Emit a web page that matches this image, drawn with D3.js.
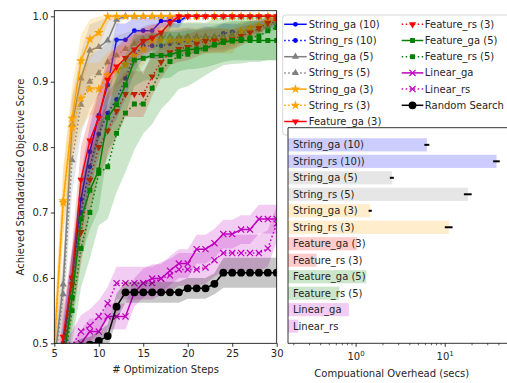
<!DOCTYPE html>
<html><head><meta charset="utf-8">
<script src="https://cdn.jsdelivr.net/npm/d3@7"></script>
<style>
body{margin:0;background:#fff}
svg{display:block;font-family:"DejaVu Sans",sans-serif}
</style>
</head><body>
<svg id="c" width="507" height="383"></svg>
<script>
// ---------- DATA ----------
const steps = [4,5,6,7,8,9,10,11,12,13,14,15,16,17,18,19,20,21,22,23,24,25,26,27,28,29,30];
const yTicks = [0.5,0.6,0.7,0.8,0.9,1.0];
const xTicks = [5,10,15,20,25,30];

const strGa10   = [0.33,0.40,0.50,0.60,0.72,0.793,0.849,0.895,0.964,0.964,0.978,0.978,0.978,0.993,0.993,0.993,1,1,1,1,1,1,1,1,1,1,1];
const strGa10Sd = [0.03,0.03,0.04,0.04,0.04,0.04,0.035,0.03,0.025,0.025,0.02,0.02,0.02,0.01,0.01,0.01,0,0,0,0,0,0,0,0,0,0,0];
const strRs10   = [0.32,0.39,0.49,0.60,0.70,0.77,0.82,0.852,0.873,0.905,0.94,0.955,0.955,0.955,0.958,0.96,0.962,0.962,0.967,0.967,0.974,0.976,0.976,0.982,0.985,0.99,0.99];
const strRs10Sd = [0.03,0.03,0.04,0.04,0.04,0.035,0.035,0.03,0.03,0.03,0.025,0.02,0.02,0.02,0.02,0.02,0.02,0.018,0.018,0.015,0.015,0.012,0.012,0.01,0.01,0.008,0.008];
const strGa5    = [0.40,0.47,0.59,0.835,0.905,0.948,0.953,0.963,0.995,1,1,1,1,1,1,1,1,1,1,1,1,1,1,1,1,1,1];
const strGa5Sd  = [0.03,0.03,0.04,0.04,0.04,0.04,0.04,0.035,0.01,0,0,0,0,0,0,0,0,0,0,0,0,0,0,0,0,0,0];
const strRs5    = [0.39,0.46,0.575,0.78,0.865,0.90,0.913,0.93,0.94,0.95,0.958,0.965,0.969,0.969,0.969,0.969,0.969,0.969,0.969,0.969,0.969,0.972,0.975,0.978,0.98,0.985,0.99];
const strRs5Sd  = [0.03,0.03,0.04,0.05,0.045,0.04,0.035,0.03,0.03,0.025,0.02,0.02,0.02,0.02,0.02,0.02,0.02,0.02,0.02,0.02,0.02,0.018,0.015,0.015,0.012,0.01,0.01];
const strGa3    = [0.40,0.497,0.718,0.844,0.932,0.965,0.975,1,1,1,1,1,1,1,1,1,1,1,1,1,1,1,1,1,1,1,1];
const strGa3Sd  = [0.03,0.04,0.05,0.05,0.04,0.03,0.025,0.01,0,0,0,0,0,0,0,0,0,0,0,0,0,0,0,0,0,0,0];
const strRs3    = [0.39,0.49,0.715,0.83,0.875,0.889,0.889,0.91,0.918,0.926,0.94,0.95,0.963,0.963,0.963,0.963,0.963,0.963,0.963,0.963,0.963,0.963,0.977,0.982,0.985,0.992,0.995];
const strRs3Sd  = [0.03,0.04,0.05,0.05,0.045,0.04,0.04,0.035,0.035,0.03,0.03,0.025,0.02,0.02,0.02,0.02,0.02,0.02,0.02,0.02,0.02,0.02,0.015,0.012,0.01,0.008,0.005];
const featGa3   = [0.30,0.40,0.51,0.60,0.75,0.81,0.845,0.903,0.923,0.936,0.949,0.962,0.967,0.975,0.99,1,1,1,1,1,1,1,1,1,1,1,1];
const featGa3Sd = [0.03,0.03,0.04,0.05,0.05,0.04,0.04,0.035,0.03,0.03,0.025,0.02,0.02,0.015,0.01,0,0,0,0,0,0,0,0,0,0,0,0];
const featRs3   = [0.30,0.38,0.48,0.59,0.67,0.75,0.80,0.825,0.855,0.881,0.881,0.881,0.908,0.93,0.945,0.95,0.953,0.958,0.962,0.963,0.963,0.965,0.97,0.975,0.982,0.99,0.995];
const featRs3Sd = [0.03,0.03,0.04,0.05,0.05,0.05,0.045,0.04,0.04,0.035,0.035,0.035,0.03,0.025,0.02,0.02,0.02,0.02,0.018,0.018,0.018,0.015,0.015,0.012,0.01,0.008,0.005];
const featGa5   = [0.30,0.38,0.47,0.57,0.69,0.734,0.765,0.845,0.865,0.895,0.933,0.936,0.94,0.94,0.941,0.946,0.949,0.95,0.952,0.956,0.96,0.963,0.963,0.963,0.963,0.963,0.963];
const featGa5Sd = [0.03,0.03,0.04,0.05,0.06,0.06,0.06,0.05,0.05,0.045,0.04,0.035,0.035,0.035,0.035,0.03,0.03,0.03,0.03,0.03,0.03,0.03,0.03,0.03,0.03,0.03,0.03];
const featRs5   = [0.28,0.37,0.46,0.55,0.645,0.70,0.76,0.77,0.821,0.852,0.866,0.866,0.89,0.918,0.931,0.939,0.942,0.946,0.95,0.957,0.962,0.962,0.965,0.967,0.97,0.978,0.983];
const featRs5Sd = [0.03,0.03,0.04,0.05,0.06,0.07,0.08,0.08,0.09,0.09,0.07,0.045,0.055,0.06,0.059,0.05,0.049,0.045,0.04,0.039,0.037,0.035,0.037,0.037,0.04,0.045,0.05];
const linGa     = [0.44,0.45,0.46,0.48,0.50,0.518,0.518,0.541,0.541,0.541,0.578,0.592,0.599,0.599,0.611,0.622,0.622,0.644,0.644,0.653,0.667,0.667,0.674,0.674,0.69,0.69,0.69];
const linGaSd   = [0.02,0.02,0.02,0.02,0.02,0.02,0.02,0.02,0.02,0.02,0.022,0.022,0.022,0.022,0.022,0.022,0.022,0.022,0.022,0.022,0.022,0.022,0.022,0.022,0.022,0.022,0.022];
const linRs     = [0.45,0.46,0.475,0.497,0.518,0.527,0.541,0.561,0.592,0.592,0.592,0.592,0.592,0.599,0.604,0.613,0.613,0.613,0.616,0.627,0.638,0.638,0.638,0.638,0.638,0.645,0.683];
const linRsSd   = [0.02,0.02,0.02,0.022,0.025,0.025,0.025,0.025,0.025,0.025,0.025,0.025,0.025,0.025,0.025,0.025,0.025,0.025,0.025,0.025,0.028,0.028,0.028,0.028,0.028,0.028,0.028];
const randSearch= [0.47,0.48,0.485,0.49,0.495,0.498,0.5035,0.511,0.556,0.578,0.578,0.578,0.578,0.578,0.578,0.578,0.584,0.584,0.584,0.591,0.608,0.608,0.608,0.608,0.608,0.608,0.608];
const randSd    = [0.01,0.01,0.01,0.01,0.012,0.012,0.015,0.018,0.02,0.016,0.016,0.016,0.016,0.016,0.016,0.016,0.016,0.016,0.016,0.016,0.023,0.023,0.023,0.023,0.023,0.023,0.023];

const seriesNames = ["String_ga (10)","String_rs (10)","String_ga (5)","String_rs (5)","String_ga (3)","String_rs (3)",
  "Feature_ga (3)","Feature_rs (3)","Feature_ga (5)","Feature_rs (5)","Linear_ga","Linear_rs","Random Search"];

// overhead inset
const barLabels = ["String_ga (10)","String_rs (10))","String_ga (5)","String_rs (5)","String_ga (3)","String_rs (3)",
  "Feature_ga (3)","Feature_rs (3)","Feature_ga (5)","Feature_rs (5)","Linear_ga","Linear_rs"];
const overhead = [6.23,37.7,2.52,18.0,1.44,11.0,1.03,0.36,1.30,0.65,0.83,0.225];
const overheadErr = [0.4,3.2,0.13,1.8,0.06,1.1,0,0,0,0,0,0];
const logTicks = [1,10];
const logMinor = [0.2,0.3,0.4,0.5,0.6,0.7,0.8,0.9,2,3,4,5,6,7,8,9,20,30,40,50];

// ---------- STYLE TABLE ----------
const C = {blue:"#0000ff",gray:"#808080",orange:"#ffa500",red:"#ff0000",green:"#008000",mag:"#bf00bf",black:"#000000"};
const series = [
 {name:seriesNames[0], v:strGa10, sd:strGa10Sd, c:C.blue, dot:false, m:"circS"},
 {name:seriesNames[1], v:strRs10, sd:strRs10Sd, c:C.blue, dot:true, m:"circS"},
 {name:seriesNames[2], v:strGa5, sd:strGa5Sd, c:C.gray, dot:false, m:"triUp"},
 {name:seriesNames[3], v:strRs5, sd:strRs5Sd, c:C.gray, dot:true, m:"triUp"},
 {name:seriesNames[4], v:strGa3, sd:strGa3Sd, c:C.orange, dot:false, m:"star"},
 {name:seriesNames[5], v:strRs3, sd:strRs3Sd, c:C.orange, dot:true, m:"star"},
 {name:seriesNames[6], v:featGa3, sd:featGa3Sd, c:C.red, dot:false, m:"triDown"},
 {name:seriesNames[7], v:featRs3, sd:featRs3Sd, c:C.red, dot:true, m:"triDown"},
 {name:seriesNames[8], v:featGa5, sd:featGa5Sd, c:C.green, dot:false, m:"square"},
 {name:seriesNames[9], v:featRs5, sd:featRs5Sd, c:C.green, dot:true, m:"square"},
 {name:seriesNames[10], v:linGa, sd:linGaSd, c:C.mag, dot:false, m:"x"},
 {name:seriesNames[11], v:linRs, sd:linRsSd, c:C.mag, dot:true, m:"x"},
 {name:seriesNames[12], v:randSearch, sd:randSd, c:C.black, dot:false, m:"circL"}
];
const barColors = [C.blue,C.blue,C.gray,C.gray,C.orange,C.orange,C.red,C.red,C.green,C.green,C.mag,C.mag];

const svg = d3.select("#c");
const TXT = "#262626";

// ---------- MAIN CHART ----------
const x = d3.scaleLinear().domain([5,30]).range([54.3,276.7]);
const y = d3.scaleLinear().domain([0.5,1.0086]).range([343.3,10.7]);

svg.append("defs").append("clipPath").attr("id","clipMain")
  .append("rect").attr("x",x.range()[0]).attr("y",y.range()[1])
  .attr("width",x.range()[1]-x.range()[0]).attr("height",y.range()[0]-y.range()[1]);

const plot = svg.append("g").attr("clip-path","url(#clipMain)");

const symbolTimes = d3.symbolTimes || d3.symbolX;
function marker(sel, type, color){
  let gen, rot = 0, fill = color, stroke = "none", sw = 0;
  switch(type){
    case "circS": gen = d3.symbol(d3.symbolCircle, 18); break;
    case "circL": gen = d3.symbol(d3.symbolCircle, 48); break;
    case "triUp": gen = d3.symbol(d3.symbolTriangle, 22); break;
    case "triDown": gen = d3.symbol(d3.symbolTriangle, 22); rot = 180; break;
    case "star": gen = d3.symbol(d3.symbolStar, 30); break;
    case "square": gen = d3.symbol(d3.symbolSquare, 24); break;
    case "x": gen = d3.symbol(symbolTimes, 26); fill = "none"; stroke = color; sw = 1.2; break;
  }
  sel.attr("d", gen()).attr("fill", fill).attr("stroke", stroke).attr("stroke-width", sw)
     .attr("transform", function(){ return (this.getAttribute("data-t")||"") + (rot?" rotate(180)":""); });
}

const area = d3.area()
  .x(d => x(d.s))
  .y0(d => y(d.m - d.sd))
  .y1(d => y(Math.min(1, d.m + d.sd)));
const line = d3.line().x(d => x(d.s)).y(d => y(d.m));

series.forEach(sr => {
  const pts = steps.map((s,i) => ({s, m: sr.v[i], sd: sr.sd[i]}));
  plot.append("path").datum(pts).attr("d", area)
    .attr("fill", sr.c).attr("fill-opacity", sr.c === C.black ? 0.22 : 0.2).attr("stroke","none");
  plot.append("path").datum(pts).attr("d", line)
    .attr("fill","none").attr("stroke", sr.c).attr("stroke-width",1.5)
    .attr("stroke-dasharray", sr.dot ? "1.5,2.5" : null);
  plot.append("g").selectAll("path").data(pts).join("path")
    .attr("data-t", d => `translate(${x(d.s)},${y(d.m)})`)
    .call(marker, sr.m, sr.c);
});

// axes
const gx = svg.append("g").attr("transform",`translate(0,${y.range()[0]})`)
  .call(d3.axisBottom(x).tickValues(xTicks).tickSize(3.5).tickPadding(3.5));
const gy = svg.append("g").attr("transform",`translate(${x.range()[0]},0)`)
  .call(d3.axisLeft(y).tickValues(yTicks).tickFormat(d3.format(".1f")).tickSize(3.5).tickPadding(2.5));
[gx,gy].forEach(g => {
  g.select(".domain").remove();
  g.selectAll("text").attr("font-size",10).attr("font-family","DejaVu Sans").attr("fill",TXT);
  g.selectAll("line").attr("stroke","#000").attr("stroke-width",0.8);
});
svg.append("rect").attr("x",x.range()[0]).attr("y",y.range()[1])
  .attr("width",x.range()[1]-x.range()[0]).attr("height",y.range()[0]-y.range()[1])
  .attr("fill","none").attr("stroke","#000").attr("stroke-width",0.8);

svg.append("text").attr("x",(x.range()[0]+x.range()[1])/2).attr("y",372.5)
  .attr("text-anchor","middle").attr("font-size",10).attr("fill",TXT).text("# Optimization Steps");
svg.append("text").attr("transform",`translate(23.5,${(y.range()[0]+y.range()[1])/2}) rotate(-90)`)
  .attr("text-anchor","middle").attr("font-size",10).attr("fill",TXT).text("Achieved Standardized Objective Score");

// ---------- LEGEND ----------
const leg = svg.append("g");
leg.append("rect").attr("x",282.7).attr("y",15).attr("width",260).attr("height",120).attr("rx",3)
  .attr("fill","#fff").attr("fill-opacity",0.8).attr("stroke","#cccccc").attr("stroke-width",0.8);
series.forEach((sr,i) => {
  const col = i < 7 ? 0 : 1, row = i < 7 ? i : i - 7;
  const x0 = col ? 401.7 : 284.2, x1 = col ? 423.3 : 306.7, tx = col ? 424.8 : 308.7;
  const yy = 24.3 + row * 16.2;
  leg.append("line").attr("x1",x0).attr("x2",x1).attr("y1",yy).attr("y2",yy)
    .attr("stroke",sr.c).attr("stroke-width",1.5).attr("stroke-dasharray", sr.dot ? "1.5,2.5" : null);
  leg.append("path").attr("data-t",`translate(${(x0+x1)/2},${yy})`).call(marker, sr.m, sr.c);
  leg.append("text").attr("x",tx).attr("y",yy).attr("dy","0.35em").attr("font-size",10).attr("fill",TXT).text(sr.name);
});

// ---------- INSET BAR CHART ----------
const xs = d3.scaleLog().domain([0.172,50]).range([288,507.5]);
const yi = d3.scaleLinear().domain([-1.04,12.04]).range([127.7,343.3]);
const unit = yi(1) - yi(0);
const inset = svg.append("g");
inset.append("rect").attr("x",xs.range()[0]).attr("y",yi.range()[0])
  .attr("width",xs.range()[1]-xs.range()[0]+5).attr("height",yi.range()[1]-yi.range()[0]).attr("fill","#fff");

inset.selectAll("rect.bar").data(overhead).join("rect").attr("class","bar")
  .attr("x", xs.range()[0])
  .attr("y", (d,i) => yi(i) - 0.4*unit)
  .attr("width", d => xs(d) - xs.range()[0])
  .attr("height", 0.8*unit)
  .attr("fill", (d,i) => barColors[i]).attr("fill-opacity",0.2);

inset.selectAll("line.err").data(overhead.filter((d,i) => overheadErr[i] > 0)).join("line").attr("class","err")
  .attr("x1",(d,i) => xs(d - overheadErr[i])).attr("x2",(d,i) => xs(d + overheadErr[i]))
  .attr("y1",(d,i) => yi(i)).attr("y2",(d,i) => yi(i))
  .attr("stroke","#000").attr("stroke-width",2);

inset.selectAll("text.lab").data(barLabels).join("text").attr("class","lab")
  .attr("x", xs.range()[0] + 5).attr("y",(d,i) => yi(i)).attr("dy","0.35em")
  .attr("font-size",10).attr("fill",TXT).text(d => d);

// spines
const yb = yi.range()[1], yt = yi.range()[0];
inset.append("line").attr("x1",xs.range()[0]).attr("x2",xs.range()[0]).attr("y1",yt).attr("y2",yb).attr("stroke","#000").attr("stroke-width",0.8);
inset.append("line").attr("x1",xs.range()[0]).attr("x2",520).attr("y1",yt).attr("y2",yt).attr("stroke","#000").attr("stroke-width",0.8);
inset.append("line").attr("x1",xs.range()[0]).attr("x2",520).attr("y1",yb).attr("y2",yb).attr("stroke","#000").attr("stroke-width",0.8);

// ticks
inset.selectAll("line.mt").data(logMinor).join("line").attr("class","mt")
  .attr("x1",d=>xs(d)).attr("x2",d=>xs(d)).attr("y1",yb).attr("y2",yb+2)
  .attr("stroke","#000").attr("stroke-width",0.6);
inset.selectAll("line.Mt").data(logTicks).join("line").attr("class","Mt")
  .attr("x1",d=>xs(d)).attr("x2",d=>xs(d)).attr("y1",yb).attr("y2",yb+3.5)
  .attr("stroke","#000").attr("stroke-width",0.8);
const tl = inset.selectAll("text.tl").data(logTicks).join("text").attr("class","tl")
  .attr("x",d=>xs(d)).attr("y",360).attr("text-anchor","middle").attr("font-size",10).attr("fill",TXT);
tl.append("tspan").text("10");
tl.append("tspan").attr("dy",-4).attr("font-size",7).text(d => String(Math.round(Math.log10(d))));

inset.append("text").attr("x",(xs.range()[0]+xs.range()[1])/2 - 6).attr("y",377)
  .attr("text-anchor","middle").attr("font-size",10).attr("fill",TXT).text("Compuational Overhead (secs)");
</script>
</body></html>
